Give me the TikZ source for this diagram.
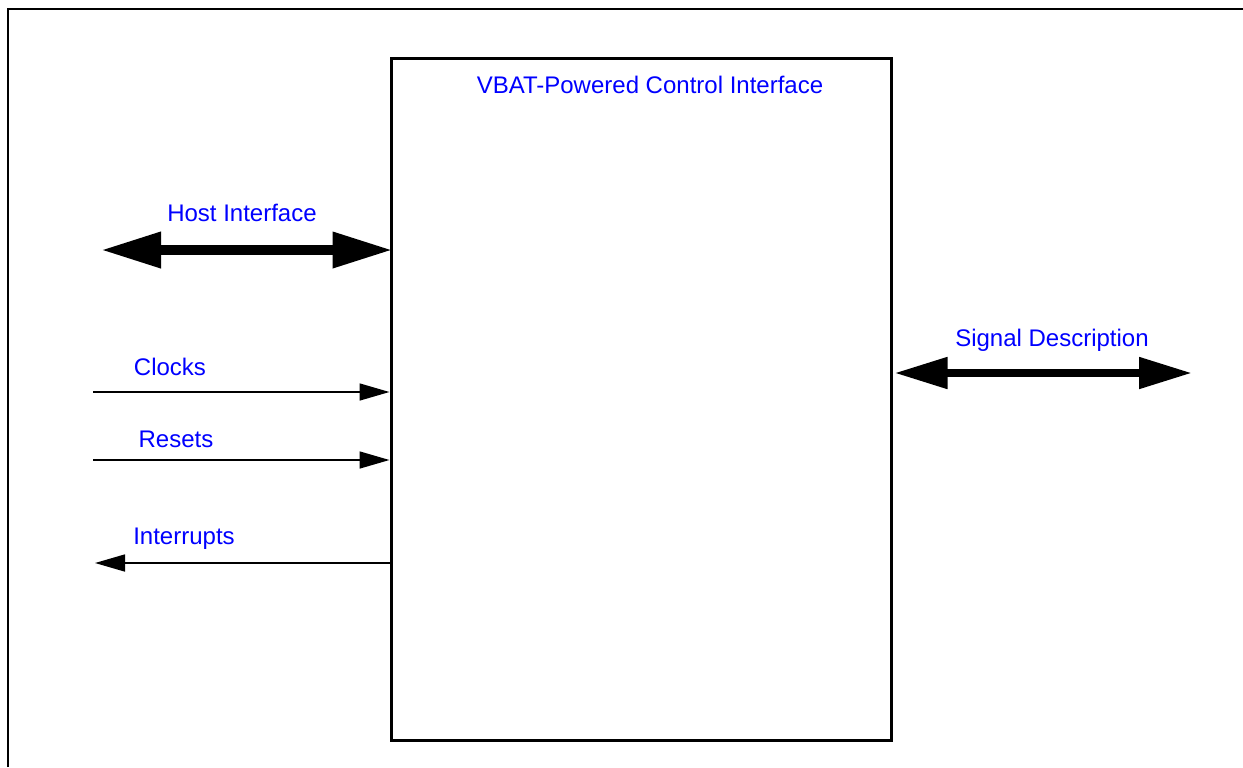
\documentclass[tikz,border=0pt]{standalone}
\usepackage{fontspec}
\setmainfont{Liberation Sans}
\usetikzlibrary{arrows.meta,positioning}

\begin{document}
\begin{tikzpicture}[x=0.5pt, y=-0.5pt, font=\fontsize{12}{14}\selectfont,
  lbl/.style={text=blue, inner sep=0pt},
  grosse/.style={line width=5pt, shorten >=-1.5pt, shorten <=-1pt, {Triangle[length=30pt,width=17pt]}-{Triangle[length=30pt,width=17pt]}},
  moyenne/.style={line width=4pt, shorten >=-1pt, {Triangle[length=26.5pt,width=15pt]}-{Triangle[length=26.5pt,width=15pt]}},
  fleche/.style={line width=0.8pt, -{Triangle[length=15pt,width=8.5pt]}}]

\useasboundingbox (0,0) rectangle (1243,767);

% Cadre
\draw[line width=1.2pt] (8,767) -- (8,9) -- (1243,9);

% Bloc principal
\node[draw, line width=1.5pt, minimum width=250pt, minimum height=341pt, inner sep=0pt] (ctl) at (641,399) {};
\node[lbl] (titre) at (650,85) {VBAT-Powered Control Interface};

% Interface hôte
\coordinate (hostG) at (103,250);
\draw[grosse] (hostG) -- (hostG -| ctl.west);
\node[lbl] (hostlbl) at (242,213) {Host Interface};

% Signaux
\coordinate (sigD) at (1190,373);
\draw[moyenne] ([xshift=1pt]sigD -| ctl.east) -- (sigD);
\node[lbl] (siglbl) at (1052,340) {Signal Description};

% Horloges, resets, interruptions
\coordinate (clkG) at (93,392);
\draw[fleche] (clkG) -- (clkG -| ctl.west);
\node[lbl] (clklbl) at (170,367) {Clocks};

\coordinate (rstG) at (93,460);
\draw[fleche] (rstG) -- (rstG -| ctl.west);
\node[lbl] (rstlbl) at (176,439) {Resets};

\coordinate (intG) at (95,563);
\draw[fleche] (intG -| ctl.west) -- (intG);
\node[lbl] (intlbl) at (184,539) {Interrupts};

\end{tikzpicture}
\end{document}
